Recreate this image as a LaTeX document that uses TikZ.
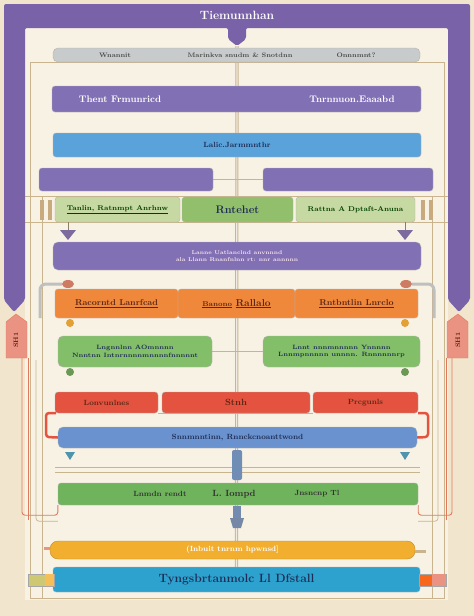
\documentclass[tikz,border=0pt]{standalone}
\usepackage{amsmath}
\usepackage{tikz}
\definecolor{bgcream}{HTML}{F1E6CD}
\definecolor{papercream}{HTML}{F8F2E4}
\definecolor{framepurple}{HTML}{7A62A8}
\definecolor{barpurple}{HTML}{8270B4}
\definecolor{bargray}{HTML}{C8CBCB}
\definecolor{barblue}{HTML}{5AA2DA}
\definecolor{palegreen}{HTML}{C7D9A3}
\definecolor{midgreen}{HTML}{92BF6C}
\definecolor{barorange}{HTML}{F0883C}
\definecolor{bargreen}{HTML}{83BF69}
\definecolor{barred}{HTML}{E4533F}
\definecolor{steelblue}{HTML}{6A92CE}
\definecolor{grassgreen}{HTML}{6FB35C}
\definecolor{baryellow}{HTML}{F2AE2F}
\definecolor{barteal}{HTML}{2EA2CE}
\definecolor{pipetan}{HTML}{C9B48E}
\definecolor{tabsalmon}{HTML}{EB9383}
\definecolor{inkbrown}{HTML}{5B2716}
\definecolor{inknavy}{HTML}{1E2D55}
\definecolor{linered}{HTML}{E07A5C}
\pgfdeclarelayer{paper}
\pgfdeclarelayer{back}
\pgfsetlayers{paper,back,main}

\begin{document}
\begin{tikzpicture}[x=1pt,y=1pt]
\tikzstyle{every node}+=[inner sep=0pt]
\tikzstyle{bar}=[rectangle,rounded corners=3pt,draw=black!30,line width=0.4pt]
\tikzstyle{lbl}=[font=\bfseries\fontsize{8.5}{9}\selectfont]
\tikzstyle{tiny}=[font=\bfseries\fontsize{5.5}{6.5}\selectfont,align=center]
\tikzstyle{rail}=[draw=pipetan,line width=0.7pt]
\tikzstyle{redline}=[draw=linered,line width=0.9pt]
\useasboundingbox (0,0) rectangle (474,-616);
\begin{pgfonlayer}{paper}
\fill [bgcream] (0,0) rectangle (474,-616);
\fill [papercream] (25,-28) rectangle (448,-600);
\end{pgfonlayer}
% purple frame
\fill [framepurple,rounded corners=2pt] (4,-300) -- (4,-4) -- (470,-4) -- (470,-300) -- (459,-312) -- (448,-300) -- (448,-28) -- (246,-28) -- (246,-39) -- (237,-46) -- (228,-39) -- (228,-28) -- (25,-28) -- (25,-300) -- (14,-312) -- cycle;
\node [font=\bfseries\fontsize{12}{13}\selectfont,text=white] (title) at (237,-15) {Tiemunnhan};
% side tabs
\fill [tabsalmon,draw=linered] (6,-322) -- (16,-314) -- (27,-322) -- (27,-358) -- (6,-358) -- cycle;
\node [font=\bfseries\fontsize{6.5}{7}\selectfont,text=inkbrown,rotate=90] (tabl) at (16,-340) {SH1};
\fill [tabsalmon,draw=linered] (447,-322) -- (458,-314) -- (468,-322) -- (468,-358) -- (447,-358) -- cycle;
\node [font=\bfseries\fontsize{6.5}{7}\selectfont,text=inkbrown,rotate=90] (tabr) at (458,-340) {SH1};

% header
\node [bar,fill=bargray,minimum width=367pt,minimum height=14pt,rounded corners=5pt] (hdr) at (236.5,-55) {};
\node [font=\bfseries\fontsize{6.5}{7}\selectfont,text=black!70] (hdrl) at (115,-55) {Wnannit};
\node [font=\bfseries\fontsize{6.5}{7}\selectfont,text=black!70] (hdrm) at (240,-55) {Marinkva snudm \& Snotdnn};
\node [font=\bfseries\fontsize{6.5}{7}\selectfont,text=black!70] (hdrr) at (356,-55) {Onnnmnt?};
% first purple bar
\node [bar,fill=barpurple,minimum width=369pt,minimum height=26pt] (topbar) at (236.5,-99) {};
\node [font=\bfseries\fontsize{9.5}{10}\selectfont,text=white] (topl) at (120,-99) {Thent Frmunricd};
\node [font=\bfseries\fontsize{9.5}{10}\selectfont,text=white] (topr) at (352,-99) {Tnrnnuon.Eaaabd};
% blue bar
\node [bar,fill=barblue,minimum width=368pt,minimum height=24pt,text=inknavy,font=\bfseries\fontsize{7.5}{8}\selectfont] (lalic) at (237,-145) {Lalic.Jarmmnthr};
% two purple boxes
\node [bar,fill=barpurple,minimum width=174pt,minimum height=23pt] (pbl) at (126,-179.5) {};
\node [bar,fill=barpurple,minimum width=170pt,minimum height=23pt] (pbr) at (348,-179.5) {};
% green row
\node [bar,fill=palegreen,minimum width=125pt,minimum height=25pt,text=black!75!green,font=\bfseries\fontsize{7}{8}\selectfont] (grl) at (117.5,-209.5) {\underline{Tanlin, Ratnmpt Anrhnw}};
\node [bar,fill=midgreen,minimum width=111pt,minimum height=25pt,text=inknavy,font=\bfseries\fontsize{11}{12}\selectfont] (grm) at (237.5,-209.5) {Rntehet};
\node [bar,fill=palegreen,minimum width=119pt,minimum height=25pt,text=black!75!green,font=\bfseries\fontsize{7}{8}\selectfont] (grr) at (355.5,-209.5) {Rattna A Dptaft-Anuna};
% second purple bar
\node [bar,fill=barpurple,minimum width=368pt,minimum height=28pt,rounded corners=5pt,tiny,text=white!90!purple] (pmid) at (237,-256) {Lanne Uatlanclnd anvnnnd\\ala Llann Rnanfnlnn rt: nnr annnnn};
% orange row
\node [bar,fill=barorange,minimum width=123pt,minimum height=29pt,lbl,text=inkbrown] (orl) at (116.5,-303.5) {\underline{Racorntd Lanrfcad}};
\node [bar,fill=barorange,minimum width=117pt,minimum height=29pt,lbl,text=inkbrown] (orm) at (236.5,-303.5) {\underline{\fontsize{7}{8}\selectfont Banono} \underline{\fontsize{10}{11}\selectfont Rallalo}};
\node [bar,fill=barorange,minimum width=123pt,minimum height=29pt,lbl,text=inkbrown] (orr) at (356.5,-303.5) {\underline{Rntbntlin Lnrclo}};
% green bars
\node [bar,fill=bargreen,minimum width=154pt,minimum height=31pt,rounded corners=5pt,tiny,font=\bfseries\fontsize{6.2}{7.5}\selectfont,text=inknavy] (gbl) at (135,-351.5) {Lngnnlnn AOmnnnn\\Nnntnn Intnrnnnnmnnnnfnnnnnt};
\node [bar,fill=bargreen,minimum width=157pt,minimum height=31pt,rounded corners=5pt,tiny,font=\bfseries\fontsize{6.2}{7.5}\selectfont,text=inknavy] (gbr) at (341.5,-351.5) {Lnnt nnnmnnnnn Ynnnnn\\Lnnmpnnnnn unnnn. Rnnnnnnrp};
% red row
\node [bar,fill=barred,minimum width=103pt,minimum height=21pt,font=\bfseries\fontsize{7.5}{8}\selectfont,text=inkbrown] (rdl) at (106.5,-402.5) {Lonvunlnes};
\node [bar,fill=barred,minimum width=148pt,minimum height=21pt,font=\bfseries\fontsize{9}{10}\selectfont,text=inkbrown] (rdm) at (236,-402.5) {Stnh};
\node [bar,fill=barred,minimum width=105pt,minimum height=21pt,font=\bfseries\fontsize{7.5}{8}\selectfont,text=inkbrown] (rdr) at (365.5,-402.5) {Prcgunls};
% steel blue bar
\node [bar,fill=steelblue,minimum width=359pt,minimum height=21pt,rounded corners=5pt,text=inknavy,font=\bfseries\fontsize{7.5}{8}\selectfont] (snn) at (237.5,-437.5) {Snnmnntinn, Rnnckcnoanttwond};
% green bar 3
\node [bar,fill=grassgreen,minimum width=360pt,minimum height=22pt] (gbot) at (238,-494) {};
\node [font=\bfseries\fontsize{7.5}{8}\selectfont,text=black!80] (gbotl) at (160,-494) {Lnmdn rendt};
\node [font=\bfseries\fontsize{9}{10}\selectfont,text=black!80] (gbotm) at (234,-494) {L. Iompd};
\node [font=\bfseries\fontsize{7.5}{8}\selectfont,text=black!80] (gbotr) at (317,-494) {Jnsncnp Tl};
% yellow bar
\node [bar,fill=baryellow,draw=baryellow!80!black,minimum width=365pt,minimum height=18pt,rounded corners=8pt,text=white,font=\bfseries\fontsize{7.5}{8}\selectfont] (ylw) at (232.5,-550) {(Inbuit tnrnm hpwnsd]};
% teal bar
\node [bar,fill=barteal,minimum width=367pt,minimum height=25pt,text=inknavy,font=\bfseries\fontsize{12}{13}\selectfont] (teal) at (236.5,-579.5) {Tyngsbrtanmolc Ll Dfstall};

% end caps of the teal bar and stubs of the yellow bar
\fill [olive!45!white,draw=black!35] (28,-574) rectangle (54,-586);
\fill [baryellow!80!white] (45,-574) rectangle (54,-586);
\fill [baryellow!60!red,draw=black!35] (419,-574) rectangle (446,-586);
\fill [tabsalmon] (432,-574) rectangle (446,-586);
\fill [tabsalmon] (44,-547) rectangle (ylw.west);
\fill [pipetan] (ylw.east) rectangle (426,-553);

\begin{pgfonlayer}{back}
% pipes and rails
\draw [pipetan,line width=3.2pt] (title.south |- 0,-46) -- (teal.north);
\draw [white!75!pipetan,line width=1.2pt] (title.south |- 0,-46) -- (teal.north);
\draw [rail] (30,-62) rectangle (444,-598);
\draw [rail] (22,-196) -- (452,-196);
\draw [rail] (22,-222) -- (452,-222);
\draw [rail] (pbl.east) -- (pbr.west);
\draw [rail,line width=1.5pt] (gbl.east) -- (gbr.west);
\draw [rail,line width=1pt] (rdl.south east) -- (rdr.south west);
\draw [rail] (55,-467) -- (420,-467);
\draw [rail] (55,-472) -- (420,-472);
\draw [rail] (42,-196) -- (42,-598);
\draw [rail] (432,-196) -- (432,-598);
\draw [rail,rounded corners=3pt] (36,-360) |- ([yshift=-16pt]gbot.south west);
\draw [rail,rounded corners=3pt] (438,-360) |- ([yshift=-16pt]gbot.south east);
\draw [redline,rounded corners=3pt] (22,-358) |- ([yshift=-10pt]gbot.south west) -- (gbot.south west);
\draw [redline] (28,-358) -- (28,-520);
\draw [redline,rounded corners=3pt] (452,-358) |- ([yshift=-10pt]gbot.south east) -- (gbot.south east);
\draw [redline] (446,-358) -- (446,-520);
\end{pgfonlayer}

% red brackets between red row and steel bar
\draw [barred,line width=2.5pt,rounded corners=3pt] (56,-413) -- (46,-413) -- (46,-437) -- (snn.west);
\draw [barred,line width=2.5pt,rounded corners=3pt] (418,-413) -- (428,-413) -- (428,-437) -- (snn.east);
% posts beside the green row
\foreach \px in {42,50,423,431} {
  \fill [pipetan!80!brown] (\px-2,-200) rectangle (\px+2,-220);
}
% funnels under the green row
\foreach \fx in {68,405} {
  \fill [framepurple!70!gray] (\fx-8,-230) -- (\fx+8,-230) -- (\fx,-240) -- cycle;
  \draw [pipetan!70!black] (\fx,-222) -- (\fx,-230);
}
% bent pipes above the orange row
\draw [gray!50,line width=3pt,rounded corners=6pt] (40,-318) -- (40,-284) -- (62,-284);
\draw [gray!50,line width=3pt,rounded corners=6pt] (434,-318) -- (434,-284) -- (412,-284);
\fill [linered!80!gray] (68,-284) ellipse (6pt and 4pt);
\fill [linered!80!gray] (406,-284) ellipse (6pt and 4pt);
% knobs
\foreach \kx in {70,405} {
  \fill [baryellow!70!brown] (\kx,-323) circle (4pt);
  \fill [bargreen!80!black] (\kx,-372) circle (4pt);
  \fill [barteal!60!gray] (\kx-5,-452) -- (\kx+5,-452) -- (\kx,-460) -- cycle;
}
% connector blocks on the centre pipe
\fill [steelblue!70!gray,rounded corners=2pt] (232,-450) rectangle (242,-480);
\fill [steelblue!50!gray] (230,-518) -- (244,-518) -- (241,-528) -- (233,-528) -- cycle;
\fill [steelblue!60!gray] (233,-506) rectangle (241,-518);
\end{tikzpicture}
\end{document}
